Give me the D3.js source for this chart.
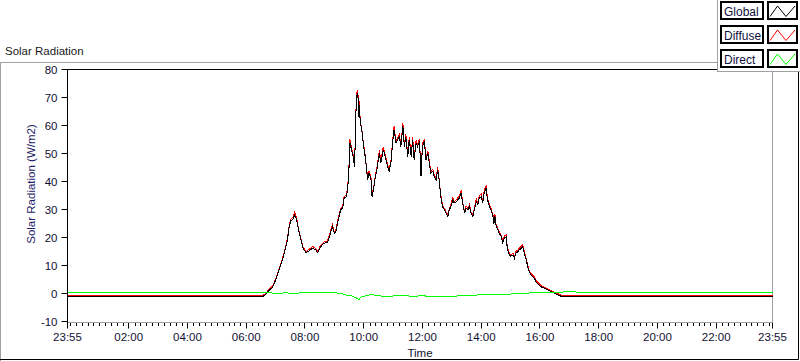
<!DOCTYPE html>
<html>
<head>
<meta charset="utf-8">
<script src="https://cdn.jsdelivr.net/npm/d3@7"></script>
<style>
body { margin: 0; background: #fff; }
text { font-family: "Liberation Sans", Arial, sans-serif; }
</style>
</head>
<body>
<svg id="chart" width="800" height="361"></svg>
<script>
// sample times, minutes after midnight (-5 = 23:55 of the day before)
var times = [
  -5, 394, 400, 407, 414, 420, 427, 434, 441, 444,
  448, 451, 455, 459, 463, 467, 472, 476, 482, 489,
  496, 502, 506, 512, 519, 526, 531, 536, 540, 543,
  548, 553, 557, 560, 565, 569, 572, 576, 579, 581,
  583, 585, 588, 590, 591, 593, 596, 599, 603, 606,
  608, 611, 615, 617, 620, 624, 628, 632, 635, 640,
  644, 649, 652, 656, 659, 662, 666, 669, 673, 676,
  680, 683, 686, 690, 693, 697, 700, 703, 707, 710,
  714, 717, 720, 724, 727, 731, 734, 737, 741, 744,
  748, 751, 754, 756, 758, 761, 765, 768, 772, 775,
  778, 782, 785, 789, 792, 795, 799, 802, 806, 809,
  813, 816, 819, 823, 826, 830, 833, 836, 840, 843,
  846, 850, 853, 857, 860, 864, 866, 868, 870, 874,
  877, 881, 884, 887, 891, 893, 896, 900, 905, 908,
  911, 915, 918, 922, 925, 928, 932, 935, 938, 942,
  945, 949, 952, 956, 962, 969, 976, 983, 990, 997,
  1002, 1004, 1435
]

var globalRad = [
  -1.05, -1.05, -0.3, 1.2, 2.2, 4.8, 8.4, 12, 16.7, 19,
  23.9, 26, 26.5, 28, 26.3, 22.7, 19, 16.2, 14.6, 15.3,
  16.2, 15.6, 14.6, 16.7, 18, 18.2, 20.9, 23.9, 21.5, 22,
  26.3, 29.9, 30.5, 34, 34.6, 40.6, 53.7, 50.7, 48.4, 45.3,
  54.9, 70.4, 71.6, 63.2, 67.4, 60.9, 58.5, 53.7, 48.9, 44.2,
  40.6, 43, 40.6, 34.6, 37, 41.8, 45.3, 50.1, 46.6, 51.3,
  48.9, 45.3, 43.6, 47.1, 53.7, 58.5, 53.7, 54.9, 56, 52.5,
  59.7, 52.5, 56, 48.9, 54.9, 48.9, 54.9, 47.7, 53.7, 52.5,
  54.3, 41.8, 52.5, 54.3, 47.7, 50.1, 46.6, 43, 43.6, 41.8,
  40.6, 44.2, 40.6, 37, 34, 31, 29.9, 28.7, 27.5, 29.9,
  31, 33.4, 32.3, 32.8, 33.4, 34, 35.8, 32.3, 28.7, 30.5,
  29.9, 31, 28.7, 27.5, 29.9, 32.8, 31.7, 34, 34.6, 32.3,
  35.8, 37.6, 33.4, 31, 29.9, 27.5, 25, 27.5, 24.5, 22.7,
  21.5, 20.3, 18, 19.7, 20.3, 16.7, 14.4, 13.2, 13.8, 12.6,
  14.4, 15, 15.6, 16.2, 16.7, 14.4, 12, 9.6, 7.8, 6.6,
  6, 5.4, 4.2, 3.4, 2.4, 1.9, 1.3, 0.6, 0.1, -0.5,
  -0.9, -1.05, -1.05
]

var diffuseRad = [
  -0.7, -0.7, 0.1, 1.6, 2.6, 5.2, 8.8, 12.4, 17.1, 19.4,
  24.3, 26.5, 27.1, 29.2, 26.8, 23.1, 19.4, 16.6, 15.0, 15.8,
  16.8, 16.0, 15.0, 17.2, 18.5, 18.8, 21.4, 24.6, 22.0, 22.5,
  26.8, 30.4, 31.2, 34.6, 35.3, 41.2, 55.0, 51.4, 49.0, 45.8,
  55.8, 71.3, 72.8, 63.8, 68.6, 61.5, 59.0, 54.2, 49.4, 44.7,
  41.1, 43.8, 41.1, 35.0, 37.6, 42.4, 46.0, 51.2, 47.2, 52.4,
  49.5, 45.8, 44.1, 47.7, 54.4, 59.7, 54.3, 55.6, 56.9, 53.0,
  60.8, 53.0, 57.0, 49.4, 55.9, 49.4, 55.9, 48.2, 54.6, 53.1,
  55.3, 42.3, 53.4, 55.2, 48.2, 51.0, 47.1, 43.5, 44.4, 42.3,
  41.1, 45.1, 41.1, 37.5, 34.5, 31.5, 30.4, 29.2, 28.0, 30.5,
  31.6, 34.3, 32.8, 33.5, 34.1, 34.7, 36.8, 32.8, 29.2, 31.3,
  30.4, 31.8, 29.2, 28.0, 30.5, 33.7, 32.2, 34.8, 35.5, 32.8,
  36.6, 38.6, 33.9, 31.5, 30.4, 28.0, 25.5, 28.3, 25.0, 23.2,
  22.0, 20.8, 18.5, 20.4, 21.0, 17.2, 14.9, 13.7, 14.5, 13.1,
  15.0, 15.6, 16.2, 16.9, 17.4, 14.9, 12.5, 10.1, 8.3, 7.1,
  6.5, 5.9, 4.7, 3.9, 2.8, 2.3, 1.7, 1.0, 0.5, -0.1,
  -0.5, -0.7, -0.7
]

var directTimes = [
  -5, 390, 400, 420, 440, 460, 480, 500, 520, 540,
  555, 565, 575, 585, 590, 595, 605, 615, 625, 640,
  660, 680, 700, 720, 740, 760, 780, 800, 820, 840,
  860, 880, 900, 920, 940, 960, 980, 1000, 1020, 1040,
  1100, 1435
]
var directRad = [
  0.35, 0.35, 0.3, 0.1, 0.2, 0.1, 0.3, 0.4, 0.2, 0.3,
  0.0, -0.6, -0.8, -1.6, -2.2, -1.2, -0.8, -0.4, -0.6, -1.0,
  -0.9, -0.7, -1.0, -0.8, -1.1, -0.9, -1.0, -0.8, -0.6, -0.5,
  -0.4, -0.3, -0.2, 0.0, 0.2, 0.3, 0.4, 0.5, 0.6, 0.5,
  0.45, 0.45
]

var yTicks = [80, 70, 60, 50, 40, 30, 20, 10, 0, -10]
var xTickTimes = [-5, 120, 240, 360, 480, 600, 720, 840, 960, 1080, 1200, 1320, 1435]
var xTickLabels = ['23:55', '02:00', '04:00', '06:00', '08:00', '10:00', '12:00',
  '14:00', '16:00', '18:00', '20:00', '22:00', '23:55']

var seriesNames = ['Global', 'Diffuse', 'Direct']
var seriesColors = ['#000000', '#ff0000', '#00ff00']

var svg = d3.select('#chart')

var pLeft = 67.5, pRight = 772.5, pTop = 69.5, pBottom = 322.5

var x = d3.scaleLinear().domain([-5, 1435]).range([pLeft, pRight])
var y = d3.scaleLinear().domain([-10, 80]).range([321.5, 69.5])

// outer panel frame
svg.append('path')
    .attr('d', 'M0.5,361V62.5H717')
    .attr('fill', 'none').attr('stroke', '#a0a0a0')
svg.append('path')
    .attr('d', 'M0,359.5H798.5V72')
    .attr('fill', 'none').attr('stroke', '#000')

// title
svg.append('text')
    .attr('x', 5).attr('y', 55)
    .attr('font-size', '11.5px')
    .attr('fill', '#1a1a1a')
    .text('Solar Radiation')

// plot frame
svg.append('path')
    .attr('d', `M${pLeft},${pBottom}V${pTop}H${pRight}`)
    .attr('fill', 'none').attr('stroke', '#000')
    .attr('shape-rendering', 'crispEdges')
svg.append('path')
    .attr('d', `M${pRight},${pTop}V${pBottom}H${pLeft}`)
    .attr('fill', 'none').attr('stroke', '#a0a0a0')
    .attr('shape-rendering', 'crispEdges')

// y axis
var yAxis = svg.append('g')
yAxis.selectAll('line').data(yTicks).enter().append('line')
    .attr('x1', pLeft - 6).attr('x2', pLeft)
    .attr('y1', d => y(d)).attr('y2', d => y(d))
    .attr('stroke', '#000')
yAxis.selectAll('text').data(yTicks).enter().append('text')
    .attr('x', pLeft - 10).attr('y', d => y(d) + 4)
    .attr('text-anchor', 'end')
    .attr('font-size', '11.5px')
    .attr('fill', '#111133')
    .text(d => d)

// x axis
var xAxis = svg.append('g')
var minor = d3.range(0, 1435, 12).filter(m => xTickTimes.indexOf(m) < 0)
xAxis.selectAll('line.minor').data(minor).enter().append('line')
    .attr('class', 'minor')
    .attr('x1', d => Math.round(x(d)) + 0.5).attr('x2', d => Math.round(x(d)) + 0.5)
    .attr('y1', pBottom + 0.5).attr('y2', pBottom + 3.5)
    .attr('stroke', '#000')
xAxis.selectAll('line.major').data(xTickTimes).enter().append('line')
    .attr('class', 'major')
    .attr('x1', d => Math.round(x(d) - 0.5) + 0.5).attr('x2', d => Math.round(x(d) - 0.5) + 0.5)
    .attr('y1', pBottom + 0.5).attr('y2', pBottom + 6)
    .attr('stroke', '#000')
xAxis.selectAll('text').data(xTickTimes).enter().append('text')
    .attr('x', d => x(d)).attr('y', pBottom + 18)
    .attr('text-anchor', 'middle')
    .attr('font-size', '11.5px')
    .attr('fill', '#111133')
    .text((d, i) => xTickLabels[i])

// axis labels
svg.append('text')
    .attr('x', (pLeft + pRight) / 2).attr('y', 357)
    .attr('text-anchor', 'middle')
    .attr('font-size', '11.5px')
    .attr('fill', '#111133')
    .text('Time')
svg.append('text')
    .attr('transform', 'translate(35,184) rotate(-90)')
    .attr('text-anchor', 'middle')
    .attr('font-size', '11.5px')
    .attr('fill', '#1c1c66')
    .text('Solar Radiation (W/m2)')

// series
var line = d3.line().x(d => x(d[0])).y(d => y(d[1]))
var diffusePts = times.map((t, i) => [t, diffuseRad[i]])
var globalPts = times.map((t, i) => [t, globalRad[i]])
var directPts = directTimes.map((t, i) => [t, directRad[i]])

var plots = [[diffusePts, seriesColors[1]], [globalPts, seriesColors[0]], [directPts, seriesColors[2]]]
svg.selectAll('path.series').data(plots).enter().append('path')
    .attr('class', 'series')
    .attr('d', d => line(d[0]))
    .attr('fill', 'none')
    .attr('stroke', d => d[1])
    .attr('stroke-width', 1)
    .attr('shape-rendering', 'crispEdges')

// legend
var legend = svg.append('g')
legend.append('rect')
    .attr('x', 717.5).attr('y', -1).attr('width', 90).attr('height', 72.5)
    .attr('fill', '#fff').attr('stroke', '#a0a0a0')
var rows = legend.selectAll('g.row').data(seriesNames).enter().append('g')
    .attr('class', 'row')
    .attr('transform', (d, i) => `translate(0, ${2 + i * 24})`)
rows.append('rect')
    .attr('x', 721).attr('y', 0).attr('width', 42).attr('height', 17)
    .attr('fill', '#fff').attr('stroke', '#000').attr('stroke-width', 2)
rows.append('text')
    .attr('x', 724).attr('y', 13.5)
    .attr('font-size', '12px')
    .attr('fill', '#101040')
    .text(d => d)
rows.append('rect')
    .attr('x', 768).attr('y', 0).attr('width', 29).attr('height', 17)
    .attr('fill', '#fff').attr('stroke', '#000').attr('stroke-width', 2)
rows.append('polyline')
    .attr('points', '770,14.5 777.5,4 786,14.5 795,4')
    .attr('fill', 'none')
    .attr('stroke', (d, i) => seriesColors[i])
</script>
</body>
</html>
